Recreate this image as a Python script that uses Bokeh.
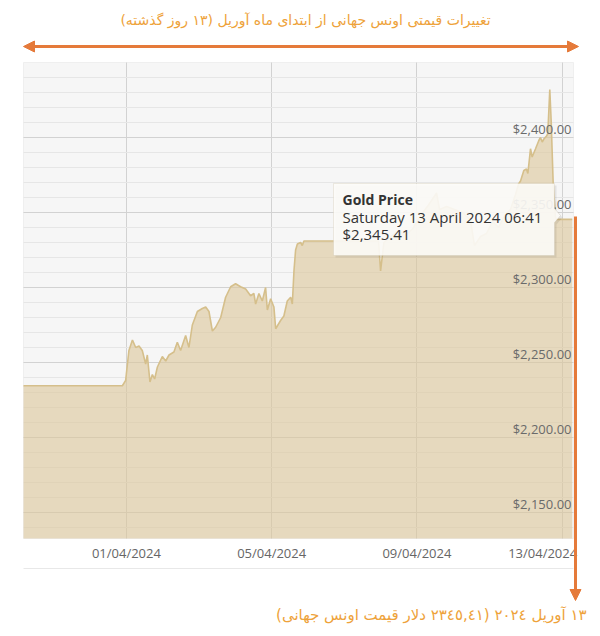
import pandas as pd
from bokeh.plotting import figure
from bokeh.models import (Range1d, FixedTicker, SingleIntervalTicker, Label, Arrow,
                          NormalHead, PolyAnnotation, ColumnDataSource, BoxAnnotation)
from bokeh.core.properties import value
from bokeh.embed import file_html
from bokeh.resources import INLINE

# ---------------- data ----------------
times = [
    "2024-03-29 04:00", "2024-03-31 21:20", "2024-03-31 23:30", "2024-04-01 01:40",
    "2024-04-01 04:00", "2024-04-01 06:10", "2024-04-01 08:20", "2024-04-01 10:30",
    "2024-04-01 12:45", "2024-04-01 13:50", "2024-04-01 15:35", "2024-04-01 17:10",
    "2024-04-01 18:40", "2024-04-01 20:30", "2024-04-01 23:45", "2024-04-02 02:00",
    "2024-04-02 04:10", "2024-04-02 07:25", "2024-04-02 09:40", "2024-04-02 11:50",
    "2024-04-02 15:10", "2024-04-02 17:20", "2024-04-02 19:35", "2024-04-02 22:55",
    "2024-04-03 02:10", "2024-04-03 04:25", "2024-04-03 06:35", "2024-04-03 08:50",
    "2024-04-03 11:00", "2024-04-03 14:20", "2024-04-03 17:35", "2024-04-03 20:55",
    "2024-04-04 00:10", "2024-04-04 03:30", "2024-04-04 06:50", "2024-04-04 10:05",
    "2024-04-04 12:15", "2024-04-04 13:25", "2024-04-04 15:35", "2024-04-04 17:50",
    "2024-04-04 20:00", "2024-04-04 21:10", "2024-04-04 23:20", "2024-04-05 01:30",
    "2024-04-05 02:40", "2024-04-05 05:55", "2024-04-05 08:05", "2024-04-05 10:20",
    "2024-04-05 12:35", "2024-04-05 13:40", "2024-04-05 14:45", "2024-04-05 15:50",
    "2024-04-05 17:00", "2024-04-05 19:10", "2024-04-05 20:15", "2024-04-05 21:20",
    "2024-04-07 22:40", "2024-04-08 00:00", "2024-04-08 02:10", "2024-04-08 06:50",
    "2024-04-08 11:50", "2024-04-08 16:30", "2024-04-08 21:05", "2024-04-09 02:25",
    "2024-04-09 07:40", "2024-04-09 13:00", "2024-04-09 15:00", "2024-04-09 19:35",
    "2024-04-10 00:55", "2024-04-10 06:10", "2024-04-10 11:25", "2024-04-10 14:05",
    "2024-04-10 18:05", "2024-04-10 22:00", "2024-04-11 02:00", "2024-04-11 06:00",
    "2024-04-11 09:55", "2024-04-11 13:50", "2024-04-11 17:10", "2024-04-11 19:10",
    "2024-04-11 20:30", "2024-04-11 22:40", "2024-04-12 00:25", "2024-04-12 01:20",
    "2024-04-12 03:05", "2024-04-12 04:10", "2024-04-12 06:25", "2024-04-12 08:35",
    "2024-04-12 09:40", "2024-04-12 10:50", "2024-04-12 11:55", "2024-04-12 13:40",
    "2024-04-12 14:30", "2024-04-12 15:50", "2024-04-12 16:45", "2024-04-12 18:05",
    "2024-04-12 19:35", "2024-04-12 20:15", "2024-04-13 06:41",
]
prices = [
    2234.5, 2234.5, 2238.0, 2258.0,
    2265.0, 2260.0, 2261.0, 2258.0,
    2249.0, 2255.0, 2237.0, 2242.0,
    2239.0, 2247.0, 2254.0, 2251.0,
    2255.0, 2257.0, 2263.5, 2258.0,
    2268.0, 2260.0, 2275.0, 2284.0,
    2286.0, 2287.0, 2284.0, 2271.0,
    2273.5, 2280.0, 2293.5, 2300.5,
    2302.5, 2300.5, 2299.0, 2294.5,
    2296.0, 2289.0, 2296.0, 2291.0,
    2300.0, 2285.0, 2292.5, 2287.0,
    2272.5, 2278.0, 2281.0, 2291.0,
    2293.5, 2289.0, 2311.0, 2325.0,
    2329.0, 2330.0, 2328.0, 2331.0,
    2331.0, 2311.0, 2330.0, 2334.0,
    2338.0, 2335.0, 2339.0, 2348.0,
    2355.0, 2363.0, 2352.0, 2354.0,
    2352.0, 2350.0, 2345.0, 2328.0,
    2334.0, 2336.0, 2344.0, 2340.0,
    2348.0, 2352.0, 2362.0, 2369.0,
    2371.0, 2378.0, 2379.0, 2376.0,
    2392.5, 2387.0, 2392.5, 2398.0,
    2400.0, 2397.0, 2399.0, 2401.0,
    2402.5, 2432.0, 2411.0, 2369.0,
    2347.0, 2345.41, 2345.41,
]

date_ticks = ["2024-04-01", "2024-04-05", "2024-04-09", "2024-04-13"]
date_labels = ["01/04/2024", "05/04/2024", "09/04/2024", "13/04/2024"]
price_ticks = [2150, 2200, 2250, 2300, 2350, 2400]
price_labels = ["$2,150.00", "$2,200.00", "$2,250.00", "$2,300.00", "$2,350.00", "$2,400.00"]

title_text = "تغییرات قیمتی اونس جهانی از ابتدای ماه آوریل (۱۳ روز گذشته)"
caption_text = "۱۳ آوریل ۲۰۲٤ (۲۳٤٥,٤۱ دلار قیمت اونس جهانی)"
tooltip_title = "Gold Price"
tooltip_date = "Saturday 13 April 2024 06:41"
tooltip_value = "$2,345.41"

# ---------------- layout constants ----------------
CW, CH = 592, 628                       # canvas
CL, CR, CT, CB = 23, 573, 62, 538       # chart area inside canvas (px)
X_START = pd.Timestamp("2024-03-29 04:00").value / 1e6
X_END = pd.Timestamp("2024-04-13 07:30").value / 1e6
Y_LO, Y_HI = 2132.67, 2450.0
KX = (X_END - X_START) / (CR - CL)
KY = (Y_HI - Y_LO) / (CB - CT)


def ms(s):
    return pd.Timestamp(s).value / 1e6


def xd(px):  # canvas px -> data x
    return X_START + (px - CL) * KX


def yd(py):  # canvas px -> data y
    return Y_HI - (py - CT) * KY


ORANGE = "#e57a3a"
GOLD_TXT = "#eea23a"
FONT = "Open Sans"
AR_FONT = "DejaVu Sans"

p = figure(width=CW, height=CH, x_axis_type="datetime",
           x_axis_location=None, y_axis_location=None,
           x_range=Range1d(xd(0), xd(CW)), y_range=Range1d(yd(CH), yd(0)),
           output_backend="svg", toolbar_location=None, min_border=0)
p.background_fill_color = "white"
p.border_fill_color = "white"
p.outline_line_color = None

# chart panel background
p.add_layout(BoxAnnotation(left=X_START, right=X_END, bottom=Y_LO, top=Y_HI,
                           fill_color="#f6f6f6", fill_alpha=1.0,
                           line_color="#d8d8d8", line_width=1, level="image"))

tick_ms = [ms(d) for d in date_ticks]
p.xgrid.ticker = FixedTicker(ticks=tick_ms)
p.xgrid.grid_line_color = "#d2d2d2"
p.xgrid.cross_bounds = (Y_LO, Y_HI)
p.ygrid.ticker = SingleIntervalTicker(interval=50, num_minor_ticks=5)
p.ygrid.bounds = (Y_LO + 1, Y_HI - 1)
p.ygrid.cross_bounds = (X_START, X_END)
p.ygrid.grid_line_color = "#d2d2d2"
p.ygrid.minor_grid_line_color = "#e6e6e6"

src = ColumnDataSource(dict(t=pd.to_datetime(times), price=prices))
p.varea(x="t", y1=Y_LO, y2="price", source=src, fill_color="#dcc79a", fill_alpha=0.6)
p.line(x="t", y="price", source=src, line_color="#d5bf8b", line_width=1.6)

# y tick labels, inside the chart at the right
ysrc = ColumnDataSource(dict(x=[X_END] * len(price_ticks), y=price_ticks, text=price_labels))
p.text(x="x", y="y", text="text", source=ysrc, text_align="right", text_baseline="bottom",
       x_offset=-2, y_offset=0, text_color="#6a6a6a", text_font_size="13px",
       text_font=value(FONT))

# x tick labels under the chart
xsrc = ColumnDataSource(dict(x=pd.to_datetime(date_ticks[:-1]), text=date_labels[:-1]))
p.text(x="x", y=yd(552), text="text", source=xsrc, text_align="center",
       text_baseline="middle", text_color="#666666", text_font_size="13px",
       text_font=value(FONT))
lsrc = ColumnDataSource(dict(x=pd.to_datetime(date_ticks[-1:]), text=date_labels[-1:]))
p.text(x="x", y=yd(552), text="text", source=lsrc, text_align="right",
       text_baseline="middle", text_color="#666666", text_font_size="13px",
       text_font=value(FONT), x_offset=15)

# bottom border of the axis band
p.segment(x0=X_START, y0=yd(568), x1=X_END, y1=yd(568), line_color="#e8e8e8", line_width=1)

# tooltip
tip_x = [333, 554, 554, 560, 554, 554, 333]
tip_y = [183, 183, 208, 215, 222, 255, 255]
p.add_layout(PolyAnnotation(xs=[xd(v + 2) for v in tip_x], ys=[yd(v + 2) for v in tip_y],
                            fill_color="#000000", fill_alpha=0.08, line_color=None))
p.add_layout(PolyAnnotation(xs=[xd(v) for v in tip_x], ys=[yd(v) for v in tip_y],
                            fill_color="#fdfcf8", fill_alpha=0.9, line_color="#cbc1a9",
                            line_width=1))
for txt, py, bold, fs in [(tooltip_title, 199, True, "14px"), (tooltip_date, 216.5, False, "15px"),
                          (tooltip_value, 233, False, "15px")]:
    p.add_layout(Label(x=xd(342), y=yd(py), text=txt, text_align="left",
                       text_baseline="middle", text_color="#333333", text_font=FONT,
                       text_font_size=fs,
                       text_font_style="bold" if bold else "normal"))

# top double arrow and title
head = dict(size=11, fill_color=ORANGE, line_color=ORANGE)
p.add_layout(Arrow(x_start=xd(23), y_start=yd(46), x_end=xd(578), y_end=yd(46),
                   start=NormalHead(**head), end=NormalHead(**head),
                   line_color=ORANGE, line_width=3))
p.add_layout(Label(x=xd(305), y=yd(19), text="\u202b" + title_text + "\u202c",
                   text_align="center", text_baseline="middle", text_color=GOLD_TXT,
                   text_font=AR_FONT, text_font_size="14px"))

# down arrow and caption
p.add_layout(Arrow(x_start=xd(575), y_start=yd(216), x_end=xd(575), y_end=yd(600),
                   start=None, end=NormalHead(**head), line_color=ORANGE, line_width=3))
p.add_layout(Label(x=xd(586), y=yd(614), text="\u202b" + caption_text + "\u202c",
                   text_align="right", text_baseline="middle", text_color=GOLD_TXT,
                   text_font=AR_FONT, text_font_size="15px"))

open("out.html", "w").write(file_html(p, INLINE))
